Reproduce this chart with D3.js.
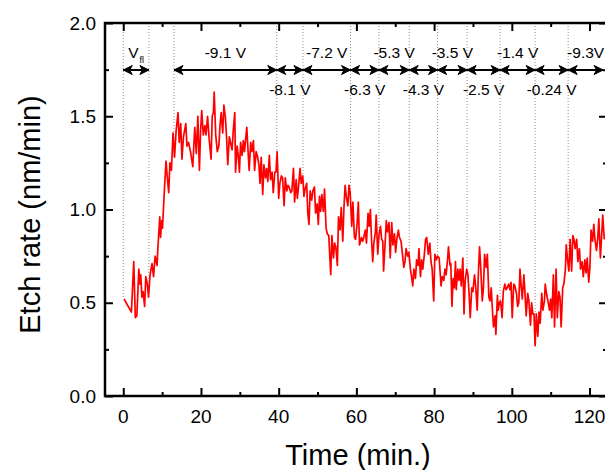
<!DOCTYPE html>
<html>
<head>
<meta charset="utf-8">
<script src="https://cdn.jsdelivr.net/npm/d3@7"></script>
<style>
	body { margin: 0; background: #fff; }
	svg { display: block; font-family: "Liberation Sans", Arial, sans-serif; }
</style>
</head>
<body>
<div id="chart"></div>
<script>
// etch rate vs time
var time = [
	0.2,2.1,2.7,3.1,3.5,4.0,4.3,4.5,4.8,5.1,5.5,5.8,6.2,6.5,6.9,7.4,7.8,8.2,8.7,8.9,9.4,9.6,9.9,10.1,10.5,11.0,11.3,11.7,12.0,12.4,12.8,13.2,13.6,14.1,14.4,14.8,15.1,15.5,16.1,16.4,16.8,17.3,17.9,18.4,18.8,19.2,19.6,
	19.9,20.2,20.6,21.0,21.3,21.7,22.1,22.6,22.9,23.2,23.4,23.8,24.2,24.6,24.9,25.2,25.6,25.9,26.3,26.6,26.9,27.3,27.6,28.0,28.3,28.7,28.9,29.3,29.6,29.9,30.2,30.6,30.9,31.2,31.5,31.8,32.1,32.4,32.8,33.1,33.5,33.8,34.2,34.5,34.9,35.2,35.5,35.9,36.2,36.6,36.9,37.2,37.6,37.9,38.3,38.6,39.0,39.3,39.6,40.0,
	40.3,40.7,41.0,41.4,41.7,42.1,42.4,42.7,43.1,43.4,43.8,44.1,44.5,44.8,45.1,45.5,45.8,46.2,46.5,46.8,47.2,47.5,47.8,48.1,48.5,48.8,49.2,49.5,49.9,50.2,50.5,50.8,51.1,51.5,51.8,52.2,52.5,52.9,53.2,53.4,53.7,54.1,54.4,54.7,55.1,55.4,55.8,56.1,56.5,56.8,57.1,57.4,57.8,58.1,58.4,58.8,59.1,59.5,59.8,60.2,60.5,60.8,
	61.3,61.6,61.9,62.3,62.6,63.0,63.3,63.6,63.9,64.2,64.5,64.9,65.1,65.5,65.8,66.2,66.5,66.8,67.0,67.4,67.7,68.0,68.4,68.7,69.1,69.4,69.8,70.1,70.4,70.8,71.1,71.5,71.8,72.2,72.5,72.8,73.2,73.5,73.9,74.2,74.5,74.8,75.2,75.5,75.9,76.1,76.5,76.8,77.1,77.5,77.8,78.1,78.5,78.9,79.2,79.5,79.9,80.2,80.6,80.9,81.3,
	81.8,82.1,82.5,82.8,83.1,83.5,83.7,84.1,84.3,84.6,84.9,85.2,85.5,85.7,86.1,86.4,86.7,87.0,87.4,87.7,88.0,88.4,88.7,89.0,89.3,89.7,90.0,90.4,90.7,91.1,91.4,91.7,92.0,92.4,92.7,93.0,93.4,93.7,94.1,94.4,94.7,95.1,95.3,95.7,95.9,96.3,96.5,96.8,97.1,97.5,97.8,98.2,98.5,98.8,99.2,99.5,99.8,100.1,100.5,100.8,101.2,101.5,101.8,
	102.1,102.4,102.7,103.1,103.4,103.7,104.1,104.4,104.8,105.1,105.4,105.7,106.0,106.3,106.7,107.0,107.3,107.7,108.0,108.4,108.6,109.0,109.3,109.7,110.0,110.3,110.7,111.0,111.4,111.7,112.1,112.4,112.7,113.1,113.4,113.8,114.0,114.4,114.7,115.0,115.4,115.7,116.0,116.3,116.7,117.0,117.4,117.7,118.1,118.4,118.8,119.1,119.4,119.8,120.1,120.4,120.8,121.1,121.4,121.8,122.1,122.4,122.8,123.1,123.4,123.8
];
var rate = [
	0.52,0.45,0.72,0.42,0.43,0.68,0.60,0.65,0.53,0.56,0.48,0.64,0.60,0.53,0.65,0.71,0.64,0.75,0.70,0.79,0.96,0.85,0.94,0.90,1.07,1.26,1.18,1.09,1.25,1.21,1.41,1.28,1.42,1.52,1.36,1.46,1.27,1.39,1.46,1.34,1.36,1.31,1.23,1.44,1.30,1.50,1.21,
	1.42,1.53,1.40,1.45,1.40,1.50,1.38,1.27,1.50,1.52,1.63,1.40,1.31,1.34,1.45,1.52,1.41,1.56,1.49,1.38,1.24,1.39,1.36,1.32,1.42,1.52,1.20,1.34,1.29,1.20,1.36,1.29,1.37,1.31,1.38,1.44,1.32,1.21,1.36,1.31,1.37,1.21,1.31,1.29,1.24,1.14,1.28,1.08,1.24,1.17,1.22,1.15,1.29,1.16,1.20,1.09,1.20,1.20,1.31,1.06,
	1.14,1.18,1.17,1.02,1.17,1.10,1.13,1.12,1.09,1.10,1.22,1.04,1.16,1.06,1.12,1.22,1.14,1.18,1.07,1.11,1.14,0.98,0.92,1.10,1.05,1.10,1.12,0.98,1.03,0.92,1.07,0.99,1.08,0.99,1.11,0.90,0.87,0.86,0.73,0.65,0.86,0.74,0.82,0.80,0.70,0.96,0.89,1.01,0.83,1.01,1.13,1.07,1.02,1.13,1.09,0.91,1.04,0.85,0.84,0.93,1.04,0.81,
	0.85,0.83,0.85,0.89,0.82,0.98,0.91,1.00,0.84,0.72,0.82,0.88,0.97,0.76,0.86,0.91,0.84,0.83,0.67,0.82,0.94,0.88,0.93,0.74,0.93,0.81,0.87,0.77,0.84,0.89,0.85,0.83,0.77,0.69,0.72,0.79,0.75,0.77,0.68,0.64,0.59,0.68,0.63,0.73,0.70,0.79,0.64,0.73,0.68,0.76,0.84,0.85,0.76,0.82,0.72,0.68,0.51,0.76,0.73,0.75,0.74,
	0.59,0.64,0.62,0.68,0.65,0.74,0.80,0.70,0.71,0.48,0.63,0.58,0.72,0.57,0.68,0.62,0.68,0.59,0.74,0.44,0.62,0.68,0.65,0.55,0.42,0.58,0.56,0.65,0.59,0.46,0.66,0.80,0.69,0.51,0.58,0.76,0.69,0.76,0.53,0.51,0.58,0.43,0.37,0.43,0.33,0.54,0.46,0.50,0.51,0.42,0.56,0.60,0.57,0.58,0.60,0.57,0.61,0.42,0.60,0.59,0.55,0.48,0.50,
	0.68,0.59,0.52,0.65,0.55,0.43,0.55,0.51,0.38,0.50,0.44,0.44,0.27,0.44,0.32,0.45,0.39,0.55,0.46,0.51,0.60,0.54,0.51,0.46,0.52,0.42,0.65,0.37,0.68,0.42,0.56,0.53,0.37,0.58,0.60,0.68,0.81,0.72,0.67,0.84,0.67,0.86,0.84,0.79,0.84,0.72,0.79,0.68,0.72,0.64,0.73,0.66,0.74,0.61,0.69,0.89,0.83,0.92,0.84,0.78,0.84,0.95,0.74,0.85,0.97,0.84
];

// bias voltage steps
var segStart = [0, 13.05, 39.5, 46.25, 58.5, 65.8, 73.6, 80.9, 88.5, 97.0, 106.0, 114.5];
var segEnd   = [6.6, 39.5, 46.25, 58.5, 65.8, 73.6, 80.9, 88.5, 97.0, 106.0, 114.5, 123.5];
var segLabel = ["V", "-9.1 V", "-8.1 V", "-7.2 V", "-6.3 V", "-5.3 V", "-4.3 V", "-3.5 V", "-2.5 V", "-1.4 V", "-0.24 V", "-9.3V"];
var segBelow = [false, false, true, false, true, false, true, false, true, false, true, false];
var dropAt   = [0, 6.6, 13.05, 39.5, 46.25, 58.5, 65.8, 73.6, 80.9, 88.5, 97.0, 106.0, 114.5];

var xMajor = [0, 20, 40, 60, 80, 100, 120];
var xMinor = [10, 30, 50, 70, 90, 110];
var yMajor = [0, 0.5, 1.0, 1.5, 2.0];
var yMinor = [0.25, 0.75, 1.25, 1.75];

var W = 605, H = 470
	, pL = 105, pR = 607, pT = 23, pB = 396;

var x = d3.scaleLinear().domain([-4.7, 124.5]).range([pL, pR]);
var y = d3.scaleLinear().domain([0, 2]).range([pB, pT]);

var svg = d3.select('#chart')
	.append('svg')
	.attr('width', W)
	.attr('height', H);

var defs = svg.append('defs');
defs.append('clipPath')
	.attr('id', 'plotclip')
	.append('rect')
	.attr('x', pL).attr('y', pT)
	.attr('width', pR - pL).attr('height', pB - pT);
defs.append('marker')
	.attr('id', 'head')
	.attr('viewBox', '-1 -6 12 12')
	.attr('refX', 9)
	.attr('refY', 0)
	.attr('markerUnits', 'userSpaceOnUse')
	.attr('markerWidth', 12)
	.attr('markerHeight', 12)
	.attr('orient', 'auto-start-reverse')
	.append('path')
	.attr('d', 'M0,-4.5 L9,0 L0,4.5 L2.5,0 Z')
	.attr('fill', '#000')
	.attr('stroke', '#000')
	.attr('stroke-width', 1)
	.attr('stroke-linejoin', 'miter');

// drop lines from the top to the curve
var bis = d3.bisector(function(d){ return d; }).center;
svg.append('g')
	.selectAll('line')
	.data(dropAt)
	.enter()
	.append('line')
	.attr('x1', function(d){ return x(d); })
	.attr('x2', function(d){ return x(d); })
	.attr('y1', pT)
	.attr('y2', function(d){ return y(rate[bis(time, d)]); })
	.attr('stroke', '#8c8c8c')
	.attr('stroke-width', 1)
	.attr('stroke-dasharray', '1,2');

// data
var line = d3.line()
	.x(function(d, i){ return x(time[i]); })
	.y(function(d){ return y(d); });
svg.append('path')
	.datum(rate)
	.attr('clip-path', 'url(#plotclip)')
	.attr('d', line)
	.attr('fill', 'none')
	.attr('stroke', '#ff0000')
	.attr('stroke-width', 1.7)
	.attr('stroke-linejoin', 'round');

// arrows
var arrowY = 70;
svg.append('g')
	.selectAll('line')
	.data(segStart)
	.enter()
	.append('line')
	.attr('x1', function(d){ return x(d); })
	.attr('x2', function(d, i){ return x(segEnd[i]); })
	.attr('y1', arrowY)
	.attr('y2', arrowY)
	.attr('stroke', '#000')
	.attr('stroke-width', 2)
	.attr('marker-start', 'url(#head)')
	.attr('marker-end', 'url(#head)');

var labels = svg.append('g')
	.attr('font-size', 15.5)
	.attr('fill', '#000')
	.attr('text-anchor', 'middle')
	.selectAll('text')
	.data(segLabel)
	.enter()
	.append('text')
	.attr('x', function(d, i){ return x((segStart[i] + segEnd[i]) / 2); })
	.attr('y', function(d, i){ return segBelow[i] ? 95 : 57.5; })
	.text(function(d){ return d; });
labels.filter(function(d, i){ return i === 0; })
	.attr('x', x((segStart[0] + segEnd[0]) / 2))
	.append('tspan')
	.attr('font-size', 9)
	.attr('dx', 1)
	.attr('dy', 5)
	.text('fl');

// axes, ticks pointing inward
function ticks(axis, vals, size, tr) {
	var g = svg.append('g')
		.attr('transform', tr)
		.call(axis.tickValues(vals).tickSize(size).tickFormat(''));
	g.select('.domain').remove();
	g.selectAll('line').attr('stroke', '#000').attr('stroke-width', 2);
	return g;
}
ticks(d3.axisBottom(x), xMajor, -8, 'translate(0,' + pB + ')');
ticks(d3.axisBottom(x), xMinor, -4, 'translate(0,' + pB + ')');
ticks(d3.axisTop(x), xMajor, -8, 'translate(0,' + pT + ')');
ticks(d3.axisTop(x), xMinor, -4, 'translate(0,' + pT + ')');
ticks(d3.axisLeft(y), yMajor, -8, 'translate(' + pL + ',0)');
ticks(d3.axisLeft(y), yMinor, -4, 'translate(' + pL + ',0)');
ticks(d3.axisRight(y), yMajor, -8, 'translate(' + pR + ',0)');
ticks(d3.axisRight(y), yMinor, -4, 'translate(' + pR + ',0)');

svg.append('rect')
	.attr('x', pL).attr('y', pT)
	.attr('width', pR - pL).attr('height', pB - pT)
	.attr('fill', 'none')
	.attr('stroke', '#000')
	.attr('stroke-width', 2.5);

// tick labels
svg.append('g')
	.attr('font-size', 19)
	.attr('text-anchor', 'middle')
	.selectAll('text')
	.data(xMajor)
	.enter()
	.append('text')
	.attr('x', function(d){ return x(d); })
	.attr('y', pB + 14)
	.attr('dy', '0.71em')
	.text(function(d){ return d; });
svg.append('g')
	.attr('font-size', 19)
	.attr('text-anchor', 'end')
	.selectAll('text')
	.data(yMajor)
	.enter()
	.append('text')
	.attr('x', pL - 9)
	.attr('y', function(d){ return y(d); })
	.attr('dy', '0.35em')
	.text(function(d){ return d3.format('.1f')(d); });

// titles
svg.append('text')
	.attr('x', 358)
	.attr('y', 465)
	.attr('font-size', 29)
	.attr('text-anchor', 'middle')
	.text('Time (min.)');
svg.append('text')
	.attr('transform', 'translate(40,' + ((pT + pB) / 2 + 5) + ') rotate(-90)')
	.attr('font-size', 29)
	.attr('text-anchor', 'middle')
	.text('Etch rate (nm/min)');
</script>
</body>
</html>
